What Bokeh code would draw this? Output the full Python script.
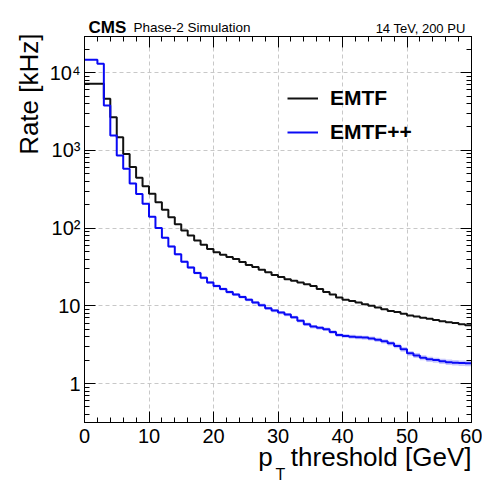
import math
from bokeh.plotting import figure
from bokeh.models import (FixedTicker, LinearAxis, LogAxis, Range1d, Title,
                          Legend, LegendItem, CustomJSTickFormatter)
from bokeh.embed import file_html
from bokeh.resources import INLINE

# ---- data ----
pt_edges = list(range(0, 61))  # 1 GeV bins, 0..60

emtf_rate = [7200, 7200, 7200, 4620, 2670, 1480, 900, 610, 445, 345,
             276, 215, 172, 138, 112, 93, 80, 69, 61, 54,
             49, 45.5, 42.5, 40, 36.5, 33.5, 31.5, 29, 27, 25,
             23.5, 22, 21, 20, 19, 18, 16.5, 15, 14, 12.8,
             12, 11.5, 11, 10.5, 10, 9.5, 9, 8.6, 8.3, 7.9,
             7.5, 7.3, 7.0, 6.8, 6.55, 6.35, 6.15, 6.0, 5.8, 5.6]

emtfpp_rate = [14650, 14650, 13000, 3780, 1550, 860, 580, 375, 275, 205,
               140, 100, 75, 58, 46, 37, 31, 26.5, 23, 20,
               18, 16.5, 15, 14, 13, 12, 11, 10.2, 9.3, 8.7,
               8.2, 7.7, 7.1, 6.4, 5.8, 5.4, 5.2, 5.0, 4.6, 4.2,
               4.1, 4.0, 3.95, 3.9, 3.8, 3.65, 3.5, 3.3, 3.05, 2.75,
               2.45, 2.3, 2.15, 2.05, 2.0, 1.93, 1.88, 1.85, 1.83, 1.82]

emtfpp_err = [60, 60, 55, 30, 18, 12, 9, 7, 5.5, 4.5,
              3.5, 2.8, 2.3, 1.9, 1.6, 1.4, 1.2, 1.1, 1.0, 0.9,
              0.8, 0.75, 0.7, 0.65, 0.6, 0.55, 0.52, 0.48, 0.45, 0.42,
              0.4, 0.38, 0.35, 0.32, 0.3, 0.28, 0.27, 0.26, 0.25, 0.24,
              0.23, 0.23, 0.23, 0.23, 0.23, 0.22, 0.22, 0.21, 0.2, 0.19,
              0.18, 0.17, 0.16, 0.16, 0.15, 0.15, 0.15, 0.15, 0.15, 0.15]

x_ticks = [0, 10, 20, 30, 40, 50, 60]
x_minor = list(range(0, 61, 2))
y_ticks = [1, 10, 100, 1000, 10000]
y_minor = [0.4, 0.5, 0.6, 0.7, 0.8, 0.9,
           2, 3, 4, 5, 6, 7, 8, 9,
           20, 30, 40, 50, 60, 70, 80, 90,
           200, 300, 400, 500, 600, 700, 800, 900,
           2000, 3000, 4000, 5000, 6000, 7000, 8000, 9000, 20000]

FONT = "Liberation Sans"
BLUE = "#0a0af5"

p = figure(width=482, height=494, x_range=Range1d(0, 60),
           y_range=Range1d(0.315, 29200), y_axis_type="log",
           output_backend="svg", toolbar_location=None,
           min_border_left=84, min_border_right=11,
           min_border_top=36, min_border_bottom=72)
p.styles = {"outline": "1.5px solid #d4d4d4", "outline-offset": "-6px"}
p.background_fill_color = "white"
p.border_fill_color = "white"
p.outline_line_color = "black"
p.outline_line_width = 1

# band + histograms
lo = [r - e for r, e in zip(emtfpp_rate, emtfpp_err)]
hi = [r + e for r, e in zip(emtfpp_rate, emtfpp_err)]
p.varea_step(x=pt_edges, y1=lo + [lo[-1]], y2=hi + [hi[-1]], step_mode="after",
             fill_color=BLUE, fill_alpha=0.22)
r_emtf = p.step(pt_edges, emtf_rate + [emtf_rate[-1]], mode="after",
                line_color="#111111", line_width=2)
r_pp = p.step(pt_edges, emtfpp_rate + [emtfpp_rate[-1]], mode="after",
              line_color=BLUE, line_width=2)

# grids
p.xgrid.ticker = FixedTicker(ticks=x_ticks)
p.ygrid.ticker = FixedTicker(ticks=y_ticks)
for g in (p.xgrid, p.ygrid):
    g.grid_line_color = "#c8c8c8"
    g.grid_line_dash = "4 3"
    g.grid_line_width = 1

fmt = CustomJSTickFormatter(code="""
const e = Math.round(Math.log10(tick));
if (e == 0) return "1";
if (e == 1) return "10";
const s = {2: "\\u00b2", 3: "\\u00b3", 4: "\\u2074"};
return "10" + s[e];
""")

blank = CustomJSTickFormatter(code="return '';")

def style(ax, labels=True):
    ax.major_tick_in = 11
    ax.major_tick_out = 0
    ax.minor_tick_in = 5
    ax.minor_tick_out = 0
    ax.axis_line_color = "black"
    ax.major_tick_line_color = "black"
    ax.minor_tick_line_color = "black"
    ax.major_label_text_font = FONT
    ax.major_label_text_color = "black"
    if labels:
        ax.major_label_text_font_size = "20px"
    else:
        ax.formatter = blank
        ax.major_label_text_font_size = "1px"
        ax.major_label_standoff = 0

xa = p.xaxis[0]
xa.ticker = FixedTicker(ticks=x_ticks, minor_ticks=x_minor)
style(xa)
xa.major_label_standoff = 6

ya = p.yaxis[0]
ya.ticker = FixedTicker(ticks=y_ticks, minor_ticks=y_minor)
ya.formatter = fmt
style(ya)
ya.major_label_standoff = 4

top = LinearAxis(ticker=FixedTicker(ticks=x_ticks, minor_ticks=x_minor))
style(top, labels=False)
p.add_layout(top, "above")
right = LogAxis(ticker=FixedTicker(ticks=y_ticks, minor_ticks=y_minor))
style(right, labels=False)
p.add_layout(right, "right")

# legend
legend = Legend(items=[LegendItem(label="EMTF", renderers=[r_emtf]),
                       LegendItem(label="EMTF++", renderers=[r_pp])],
                location=(203, 278), glyph_width=31, glyph_height=24,
                label_height=24, label_standoff=12, spacing=10, padding=0,
                margin=0, border_line_color=None, background_fill_alpha=0,
                label_text_font=FONT, label_text_font_size="21px",
                label_text_font_style="bold", label_text_color="black")
p.add_layout(legend, "center")

def title(text, size, align, offset, standoff, bold=False):
    return Title(text=text, align=align, offset=offset, standoff=standoff,
                 text_font=FONT, text_font_size=size, text_color="black",
                 text_font_style="bold" if bold else "normal")

# axis titles
p.add_layout(title("Rate [kHz]", "26px", "right", -3, 6), "left")
p.add_layout(title("p\u2002\u2009threshold [GeV]", "26px", "right", 0, -12), "below")
p.add_layout(title("T", "16px", "left", 191, -4), "below")

# header texts (same row above the frame)
p.add_layout(title("14 TeV, 200 PU", "13px", "right", 6, 2), "above")
p.add_layout(title("CMS", "17px", "left", 4, -39, bold=True), "above")
p.add_layout(title("Phase-2 Simulation", "13.5px", "left", 49, -34), "above")

open("out.html", "w").write(file_html(p, INLINE))
